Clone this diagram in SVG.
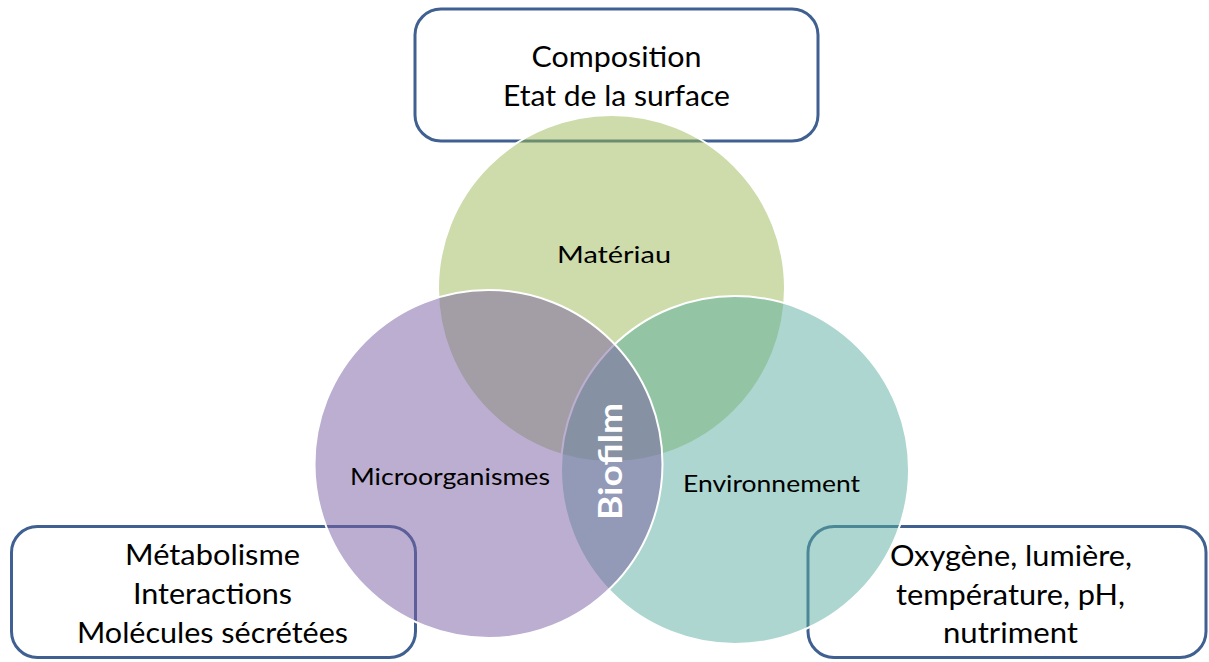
<svg xmlns="http://www.w3.org/2000/svg" width="1209" height="662" viewBox="0 0 1209 662">
<style>
.box{fill:#ffffff;stroke:#3f6090;stroke-width:3}
.circ{stroke:#ffffff;stroke-width:2;fill-opacity:0.5}
.bt{font-family:Lato,"Open Sans",sans-serif;font-size:28px;fill:#000;text-anchor:middle}
.lt{font-family:Lato,"Open Sans",sans-serif;font-size:24px;fill:#000;text-anchor:middle}
.bio{font-family:Lato,"Open Sans",sans-serif;font-size:33px;font-weight:bold;fill:#fff;text-anchor:middle}
</style>
<rect width="1209" height="662" fill="#ffffff"/>
<g id="box-materiau">
<rect class="box" x="415" y="9" width="403" height="132" rx="26"/>
<text class="bt" x="616.5" y="67" textLength="170" lengthAdjust="spacingAndGlyphs">Composition</text>
<text class="bt" x="616.5" y="106" textLength="227" lengthAdjust="spacingAndGlyphs">Etat de la surface</text>
</g>
<g id="box-micro">
<rect class="box" x="11.5" y="526.5" width="404" height="131" rx="26"/>
<text class="bt" x="212.5" y="565" textLength="175" lengthAdjust="spacingAndGlyphs">Métabolisme</text>
<text class="bt" x="212.5" y="604" textLength="159" lengthAdjust="spacingAndGlyphs">Interactions</text>
<text class="bt" x="212.5" y="643" textLength="271" lengthAdjust="spacingAndGlyphs">Molécules sécrétées</text>
</g>
<g id="box-env">
<rect class="box" x="808" y="526.5" width="398" height="131" rx="26"/>
<text class="bt" x="1011" y="566" textLength="242" lengthAdjust="spacingAndGlyphs">Oxygène, lumière,</text>
<text class="bt" x="1010.5" y="605" textLength="229" lengthAdjust="spacingAndGlyphs">température, pH,</text>
<text class="bt" x="1010.5" y="643" textLength="135" lengthAdjust="spacingAndGlyphs">nutriment</text>
</g>
<g id="circle-materiau">
<circle class="circ" cx="611.5" cy="288.5" r="173.5" fill="#9bb955"/>
<text class="lt" x="614" y="263" textLength="114" lengthAdjust="spacingAndGlyphs">Matériau</text>
</g>
<g id="circle-environnement">
<circle class="circ" cx="735" cy="470" r="174" fill="#59ad9f"/>
<text class="lt" x="771.5" y="492" textLength="177" lengthAdjust="spacingAndGlyphs">Environnement</text>
</g>
<g id="circle-micro">
<circle class="circ" cx="488.5" cy="464" r="174" fill="#795da1"/>
<text class="lt" x="450" y="485" textLength="200" lengthAdjust="spacingAndGlyphs">Microorganismes</text>
</g>
<g id="biofilm">
<text class="bio" transform="translate(622,461.5) rotate(-90)" x="0" y="0" textLength="117" lengthAdjust="spacingAndGlyphs">Biofilm</text>
</g>
<g id="connectors"></g>
</svg>
